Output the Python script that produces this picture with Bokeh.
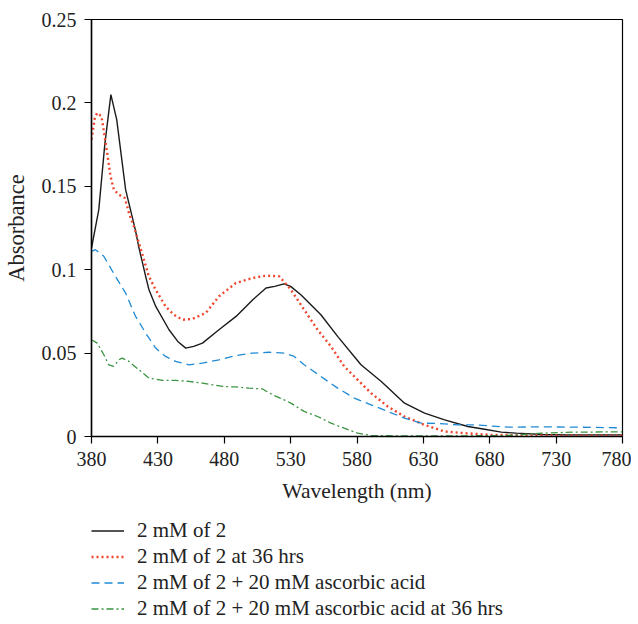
from bokeh.plotting import figure
from bokeh.models import Range1d, FixedTicker, Legend, LegendItem
from bokeh.layouts import column
from bokeh.embed import file_html
from bokeh.resources import INLINE

# ---- data ----
wl_black = [380, 385.5, 390, 394.6, 399, 405.7, 413, 415.5, 420.8, 423.3, 428.4, 438.4, 445, 451, 457, 463.6,
            476, 488.9, 501.5, 511.5, 518, 525, 530, 537.7, 552.8, 565.4, 583, 598.3, 615.8, 630.9, 646,
            663.5, 675, 688.7, 700, 720, 740, 760, 780]
abs_black = [0.113, 0.136, 0.175, 0.205, 0.190, 0.148, 0.124, 0.114, 0.096, 0.088, 0.078, 0.064, 0.057, 0.053, 0.054, 0.056,
             0.064, 0.072, 0.082, 0.089, 0.090, 0.0915, 0.090, 0.085, 0.073, 0.060, 0.043, 0.033, 0.020, 0.014, 0.010,
             0.006, 0.0045, 0.0026, 0.002, 0.0012, 0.001, 0.001, 0.001]

wl_red = [380, 382.5, 384.3, 387.5, 389.3, 391.8, 394.3, 396.8, 400.6, 405.1, 408.2, 411.9, 415.7, 419.5, 423.2,
          428.3, 435.8, 442, 448.4, 456, 466, 476, 488.7, 501.3, 511.3, 521.4, 530.2, 540.2, 550.3, 560.4,
          570.4, 580.5, 590.6, 603.2, 615.7, 630.8, 645.9, 661, 680, 700, 740, 780]
abs_red = [0.178, 0.191, 0.194, 0.192, 0.183, 0.170, 0.156, 0.148, 0.145, 0.143, 0.134, 0.126, 0.116, 0.106, 0.096,
           0.088, 0.078, 0.073, 0.070, 0.0705, 0.074, 0.084, 0.092, 0.095, 0.0964, 0.096, 0.088, 0.076, 0.064, 0.054,
           0.042, 0.034, 0.026, 0.018, 0.012, 0.007, 0.003, 0.002, 0.001, 0.0008, 0.0005, 0.0005]

wl_blue = [380, 383, 389.3, 398, 405.7, 413.2, 420.8, 428.3, 435.8, 443.4, 453.4, 463.5, 476, 488.7, 501.3, 513.8,
           525.2, 532.7, 540.2, 552.8, 565.4, 578, 590.6, 603.2, 615.8, 628.3, 641, 656, 668.5, 693.7, 718.9,
           744, 780]
abs_blue = [0.111, 0.112, 0.108, 0.096, 0.086, 0.072, 0.062, 0.053, 0.048, 0.045, 0.043, 0.044, 0.046, 0.0485, 0.050, 0.0505,
            0.050, 0.048, 0.043, 0.036, 0.029, 0.023, 0.019, 0.015, 0.011, 0.008, 0.0078, 0.007, 0.007, 0.0056, 0.0058,
            0.0056, 0.0052]

wl_green = [380, 384.3, 389.3, 393, 396.8, 400.6, 403.1, 408.2, 415.7, 423.3, 433.3, 443.4, 453.4, 463.6, 471, 478.6,
            488.7, 498.7, 508.8, 516.4, 525.1, 530.2, 540.2, 550.3, 560.4, 570.4, 580.5, 590.6, 620, 660, 693.7,
            718.9, 744, 780]
abs_green = [0.058, 0.056, 0.049, 0.043, 0.042, 0.046, 0.047, 0.045, 0.040, 0.035, 0.0337, 0.0337, 0.033, 0.032, 0.031, 0.030,
             0.0297, 0.029, 0.0285, 0.025, 0.022, 0.020, 0.015, 0.012, 0.008, 0.005, 0.002, 0.0006, 0.0003, 0.0004, 0.0006,
             0.002, 0.0026, 0.0028]

series_labels = ["2 mM of 2", "2 mM of 2 at 36 hrs", "2 mM of 2 + 20 mM ascorbic acid",
                 "2 mM of 2 + 20 mM ascorbic acid at 36 hrs"]

x_ticks = [380, 430, 480, 530, 580, 630, 680, 730, 780]
y_ticks = [0, 0.05, 0.1, 0.15, 0.2, 0.25]
y_tick_labels = ["0", "0.05", "0.1", "0.15", "0.2", "0.25"]
x_label = "Wavelength (nm)"
y_label = "Absorbance"

FONT = "Liberation Serif"
FS = "20px"
TXT = "#222222"

styles = [dict(line_color="#1a1a1a", line_width=1.4),
          dict(line_color="#f0462d", line_width=2.4, line_dash="2 3"),
          dict(line_color="#1f8ad4", line_width=1.3, line_dash="8 5"),
          dict(line_color="#3a9440", line_width=1.3, line_dash="7 3 2 3")]

W = 631
p = figure(width=W, height=518, output_backend="svg", toolbar_location=None,
           x_range=Range1d(380, 780), y_range=Range1d(0, 0.25),
           min_border_left=86, min_border_right=9, min_border_top=19, min_border_bottom=82)
p.grid.visible = False
p.outline_line_color = "black"
p.outline_line_width = 1.2

p.xaxis.ticker = FixedTicker(ticks=x_ticks)
p.yaxis.ticker = FixedTicker(ticks=y_ticks)
p.yaxis.major_label_overrides = {t: s for t, s in zip(y_ticks, y_tick_labels)}
p.xaxis.axis_label = x_label
p.yaxis.axis_label = y_label
for ax in (p.xaxis, p.yaxis):
    ax.axis_line_color = "black"
    ax.axis_line_width = 1.5
    ax.major_tick_line_color = "black"
    ax.major_tick_line_width = 1.2
    ax.major_tick_in = 0
    ax.major_tick_out = 7
    ax.minor_tick_line_color = None
    ax.major_label_text_font = FONT
    ax.major_label_text_font_size = FS
    ax.major_label_text_color = TXT
    ax.axis_label_text_font = FONT
    ax.axis_label_text_font_style = "normal"
    ax.axis_label_text_color = TXT
p.xaxis.axis_label_text_font_size = "21.5px"
p.yaxis.axis_label_text_font_size = "22.5px"
p.xaxis.major_label_standoff = 8
p.yaxis.major_label_standoff = 8
p.xaxis.axis_label_standoff = 10
p.yaxis.axis_label_standoff = 10

xs = [wl_black, wl_red, wl_blue, wl_green]
ys = [abs_black, abs_red, abs_blue, abs_green]
for x, y, st in zip(xs, ys, styles):
    p.line(x, y, **st)

# legend panel below the chart (its helper lines reuse the data but lie outside its view)
q = figure(width=W, height=103, output_backend="svg", toolbar_location=None,
           x_axis_location=None, y_axis_location=None,
           x_range=Range1d(0, 1), y_range=Range1d(10, 11),
           min_border_left=86, min_border_right=9, min_border_top=0, min_border_bottom=0)
q.grid.visible = False
q.outline_line_color = None
leg_renderers = [q.line(x, y, **st) for x, y, st in zip(xs, ys, styles)]
legend = Legend(items=[LegendItem(label=l, renderers=[r]) for l, r in zip(series_labels, leg_renderers)],
                location="top_left", orientation="vertical")
legend.border_line_color = None
legend.background_fill_alpha = 0
legend.label_text_font = FONT
legend.label_text_font_size = "21px"
legend.label_text_color = TXT
legend.glyph_width = 33
legend.glyph_height = 25
legend.label_height = 25
legend.spacing = 1
legend.label_standoff = 13
legend.padding = 0
legend.margin = 0
q.add_layout(legend, "center")

layout = column(p, q, spacing=0)
open("out.html", "w").write(file_html(layout, INLINE))
